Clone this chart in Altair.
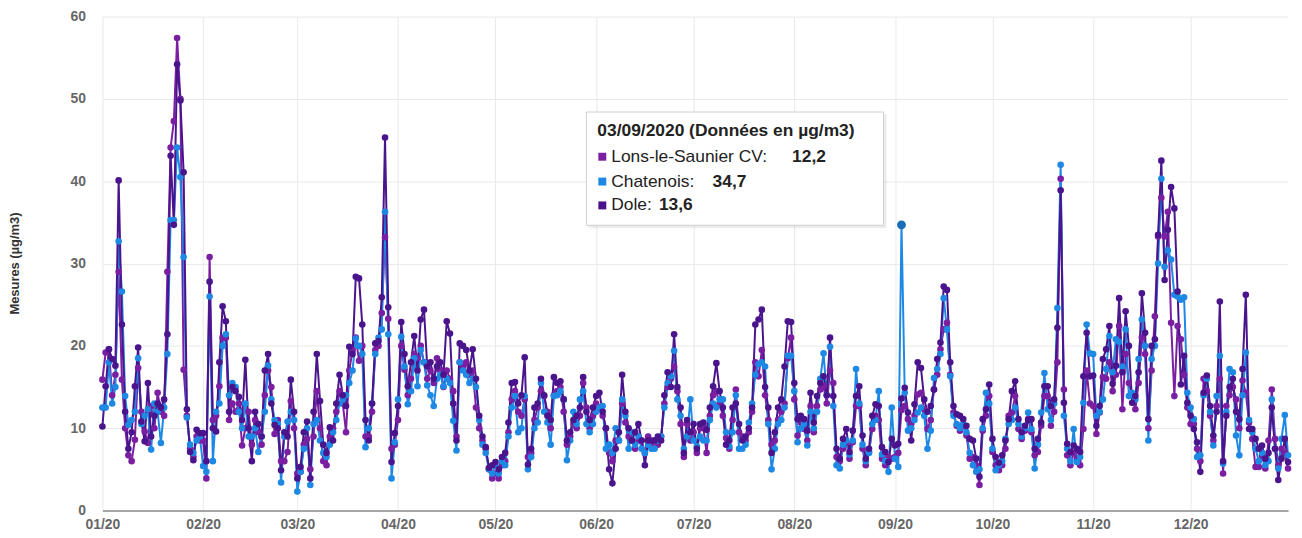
import altair as alt
import pandas as pd

# ---- data (daily means, µg/m3, 2020) ----
series_names = ["Lons-le-Saunier CV", "Chatenois", "Dole"]
series_colors = ["#7B1FA2", "#1E88E5", "#4A148C"]

lons = [
    15.9, 19.2, 19.6, 14.0, 16.5, 29.0, 15.9, 10.0, 6.7, 6.0, 8.6, 17.3, 12.0, 9.6, 8.2, 12.7, 10.0, 14.3, 12.0, 11.5, 29.0, 44.1, 47.3, 57.4, 50.0, 17.1, 11.5, 7.5, 6.5, 9.0, 8.5,
    8.5, 3.9, 30.8, 11.0, 11.5, 15.1, 21.0, 21.0, 11.0, 13.0, 12.0, 13.0, 7.9, 10.0, 12.0, 8.0, 11.0, 9.5, 8.0, 14.0, 17.0, 15.0, 9.3, 11.0, 6.0, 6.0, 7.1, 13.3, 10.0,
    4.5, 4.7, 8.0, 8.7, 5.0, 9.0, 14.5, 10.0, 6.0, 5.5, 9.0, 10.0, 12.0, 14.5, 13.0, 9.5, 17.0, 19.5, 21.0, 18.2, 20.0, 9.0, 9.0, 12.0, 19.5, 20.0, 24.0, 33.2, 23.3, 7.5, 8.0,
    11.0, 20.0, 17.1, 14.0, 16.0, 19.0, 18.5, 20.0, 18.0, 16.0, 17.0, 15.5, 18.5, 17.0, 15.0, 17.0, 16.0, 14.5, 9.0, 18.0, 17.5, 18.0, 16.5, 17.0, 12.5, 10.0, 8.5, 7.5, 5.0, 3.9,
    4.5, 3.9, 5.5, 6.0, 9.5, 13.5, 14.5, 12.0, 11.5, 13.5, 6.5, 7.0, 11.0, 12.5, 14.5, 13.9, 12.0, 10.0, 14.0, 14.5, 15.0, 12.0, 8.0, 9.0, 10.5, 10.0, 11.5, 15.5, 12.5, 10.0, 11.5,
    13.0, 12.5, 11.5, 10.0, 7.0, 6.0, 8.5, 8.5, 13.0, 10.7, 9.0, 8.5, 7.5, 8.5, 8.5, 7.0, 9.0, 8.0, 8.5, 8.0, 9.0, 13.0, 15.0, 16.0, 17.5, 14.5, 10.5, 6.5, 10.5, 8.5,
    9.5, 7.0, 10.0, 10.0, 7.0, 11.5, 14.0, 14.5, 13.0, 11.5, 8.8, 7.5, 11.0, 14.7, 9.5, 9.0, 8.5, 9.5, 12.0, 18.0, 16.3, 19.5, 14.0, 11.0, 8.0, 8.5, 11.0, 12.0, 13.0, 18.5, 21.0,
    13.5, 9.1, 10.7, 9.9, 8.5, 12.7, 9.5, 12.7, 14.7, 15.1, 13.0, 17.0, 15.5, 6.5, 6.0, 7.5, 8.3, 6.3, 8.3, 12.7, 12.7, 7.5, 5.5, 7.1, 9.9, 11.5, 11.0, 6.3, 5.5, 6.5, 6.3,
    6.5, 7.0, 12.2, 12.7, 11.1, 10.5, 11.5, 14.1, 14.3, 12.3, 9.9, 11.0, 14.7, 16.5, 19.6, 22.0, 22.8, 16.5, 11.9, 10.3, 9.7, 10.3, 9.1, 6.3, 6.5, 5.5, 3.1, 9.7, 11.5, 13.9,
    7.1, 5.5, 4.9, 5.5, 7.5, 11.5, 11.9, 13.9, 9.9, 8.7, 9.7, 11.1, 9.5, 6.7, 7.1, 10.3, 13.9, 13.9, 10.3, 12.0, 18.0, 40.3, 14.7, 6.7, 5.5, 7.0, 6.3, 5.5, 9.9, 17.0, 13.0,
    12.7, 9.3, 11.9, 16.2, 16.0, 18.0, 14.5, 16.5, 22.4, 12.3, 19.0, 15.5, 14.0, 12.3, 15.5, 21.0, 19.0, 10.0, 17.0, 23.6, 33.3, 38.0, 33.3, 36.3, 22.8, 13.9, 22.4, 20.8, 16.5, 12.5,
    10.5, 10.5, 7.5, 6.0, 16.0, 14.5, 11.5, 8.5, 12.7, 16.0, 4.5, 12.7, 14.0, 15.0, 13.5, 10.0, 15.8, 14.3, 10.7, 8.7, 5.3, 5.3, 6.7, 5.1, 8.5, 14.7, 8.7, 5.5, 7.5, 7.0, 5.1,
]

chatenois = [
    12.5, 12.5, 18.0, 13.0, 15.0, 32.7, 26.6, 13.9, 10.4, 11.0, 12.0, 18.5, 10.5, 11.5, 12.3, 7.4, 13.0, 12.0, 8.2, 12.5, 19.0, 35.3, 35.3, 44.1, 40.5, 30.8, 11.3, 8.0, 7.0, 8.5, 9.0,
    5.4, 4.7, 26.0, 6.0, 12.0, 13.0, 20.0, 21.4, 14.0, 15.5, 15.0, 12.0, 10.0, 13.0, 9.0, 9.0, 10.0, 7.1, 9.0, 12.0, 17.6, 13.5, 11.0, 10.5, 3.4, 9.0, 10.8, 12.0, 11.0,
    2.3, 4.7, 7.5, 10.0, 3.1, 10.5, 11.0, 8.5, 7.0, 6.5, 8.0, 9.5, 11.0, 13.0, 13.5, 14.0, 15.5, 17.0, 20.9, 20.0, 19.0, 7.7, 10.0, 13.0, 19.0, 21.0, 22.0, 36.3, 21.4, 3.9, 8.3,
    13.5, 21.1, 17.5, 12.9, 14.5, 18.5, 15.1, 19.5, 18.0, 15.2, 14.0, 12.7, 16.0, 16.5, 15.1, 16.0, 15.5, 10.9, 7.3, 18.0, 17.0, 16.5, 15.5, 16.0, 15.0, 11.0, 8.0, 7.0, 5.0, 4.5,
    5.5, 4.5, 6.0, 5.5, 9.0, 12.5, 13.9, 9.5, 10.0, 13.9, 5.0, 6.5, 10.0, 10.7, 15.5, 12.0, 10.7, 8.0, 13.9, 14.0, 14.5, 13.5, 6.1, 8.5, 12.0, 10.5, 13.5, 14.5, 10.5, 9.5, 10.5,
    12.0, 12.5, 12.7, 7.5, 8.0, 7.0, 10.0, 8.5, 13.5, 11.5, 7.5, 9.5, 8.0, 9.0, 7.5, 7.0, 8.0, 7.5, 7.5, 8.5, 9.0, 12.5, 15.5, 16.3, 19.4, 13.5, 11.5, 7.5, 9.0, 13.5,
    8.5, 7.8, 9.0, 8.5, 8.5, 11.0, 13.0, 12.5, 13.5, 13.5, 9.5, 7.8, 9.5, 14.0, 7.5, 7.5, 8.0, 10.7, 13.0, 16.5, 17.8, 18.0, 17.5, 10.5, 5.0, 7.5, 10.5, 11.0, 12.5, 18.8, 18.8,
    14.5, 8.3, 10.0, 10.5, 7.9, 12.0, 10.0, 12.0, 16.0, 19.1, 14.0, 19.9, 12.7, 5.5, 5.1, 8.0, 8.5, 6.8, 8.5, 17.2, 13.0, 8.0, 6.0, 7.0, 10.5, 11.0, 14.5, 6.8, 6.0, 4.7, 12.5,
    6.3, 5.3, 34.7, 14.3, 9.7, 10.0, 11.0, 11.9, 12.5, 11.5, 7.5, 9.7, 16.1, 17.2, 19.0, 25.8, 22.0, 16.3, 11.5, 10.5, 10.0, 10.5, 9.5, 7.0, 5.5, 4.7, 5.0, 10.0, 14.3, 13.0,
    7.5, 4.9, 5.5, 6.0, 8.7, 10.5, 11.0, 12.5, 10.5, 9.0, 10.0, 11.9, 9.9, 5.1, 8.0, 11.9, 16.7, 12.3, 11.0, 13.0, 24.6, 42.0, 11.5, 7.5, 6.0, 9.9, 5.9, 6.5, 13.1, 22.6, 19.1,
    19.0, 11.5, 12.0, 13.5, 17.2, 21.2, 16.8, 20.8, 20.5, 17.5, 22.0, 13.9, 14.3, 13.5, 18.4, 23.2, 20.0, 8.5, 18.4, 20.0, 30.0, 40.3, 29.6, 31.6, 30.5, 26.2, 26.0, 25.6, 25.9, 14.3,
    12.5, 11.1, 6.5, 6.7, 14.0, 16.0, 12.0, 7.9, 13.9, 18.8, 5.7, 12.0, 17.2, 16.8, 9.1, 6.7, 14.0, 19.2, 11.0, 9.5, 7.5, 6.0, 7.0, 5.5, 6.0, 13.5, 7.5, 5.1, 8.7, 11.6, 6.7,
]

dole = [
    10.2, 15.1, 19.6, 18.4, 17.6, 40.1, 22.6, 12.0, 7.5, 9.5, 15.1, 19.8, 10.8, 8.4, 15.5, 9.0, 11.5, 13.0, 12.5, 13.5, 21.4, 43.1, 34.7, 54.2, 49.8, 41.1, 12.3, 7.1, 6.1, 9.8, 9.4,
    9.4, 6.0, 27.8, 10.0, 9.6, 18.0, 24.8, 23.0, 12.0, 15.0, 14.5, 13.8, 11.0, 18.3, 10.0, 6.0, 12.0, 10.5, 9.0, 17.0, 19.0, 13.0, 10.4, 10.0, 4.9, 9.5, 9.0, 15.9, 12.0,
    3.9, 5.3, 9.5, 10.8, 3.9, 12.0, 19.0, 13.3, 8.0, 7.0, 10.1, 8.5, 13.0, 16.5, 14.0, 12.7, 19.9, 19.0, 28.4, 28.2, 22.6, 11.0, 8.5, 13.0, 20.3, 20.6, 25.9, 45.3, 24.7, 5.9, 9.4,
    12.7, 22.9, 19.0, 15.1, 18.0, 21.2, 17.0, 23.2, 24.4, 17.5, 18.0, 16.0, 17.5, 18.0, 16.5, 23.0, 21.5, 13.0, 8.5, 20.3, 20.0, 19.5, 17.0, 19.6, 16.0, 11.5, 9.0, 7.7, 5.2, 5.5,
    5.9, 5.0, 6.5, 7.0, 10.7, 15.5, 15.6, 13.0, 14.0, 18.6, 5.6, 7.5, 12.5, 13.0, 16.0, 14.0, 11.5, 11.0, 16.2, 15.5, 15.7, 13.5, 8.5, 9.5, 11.0, 11.5, 12.5, 16.2, 12.0, 11.0, 12.5,
    13.9, 14.3, 12.0, 10.0, 5.0, 3.3, 7.5, 9.5, 16.5, 12.0, 10.0, 8.5, 9.5, 10.5, 8.5, 5.5, 8.5, 8.5, 8.5, 9.0, 8.5, 14.0, 16.8, 15.0, 21.4, 15.0, 12.5, 7.0, 11.0, 9.5,
    10.5, 7.5, 10.5, 10.7, 9.8, 12.5, 15.1, 17.9, 14.5, 12.5, 8.0, 8.5, 12.5, 13.0, 10.5, 8.5, 9.0, 10.0, 12.5, 22.6, 23.2, 24.4, 15.0, 12.5, 7.0, 9.5, 12.5, 13.5, 17.5, 23.0, 22.9,
    15.5, 11.1, 11.5, 11.1, 9.7, 14.3, 10.7, 13.9, 15.5, 16.3, 14.0, 21.0, 13.9, 7.5, 6.3, 8.7, 9.9, 7.1, 9.7, 13.9, 15.1, 9.1, 6.3, 7.5, 11.5, 12.9, 12.7, 7.7, 7.1, 5.9, 8.7,
    7.9, 8.1, 13.6, 14.9, 11.9, 8.5, 12.9, 18.0, 17.3, 13.5, 12.0, 12.7, 14.7, 18.4, 20.4, 27.2, 26.8, 18.0, 12.7, 11.7, 11.5, 11.1, 10.3, 8.7, 8.5, 6.3, 4.1, 11.1, 12.3, 15.3,
    8.7, 6.5, 5.8, 6.7, 8.5, 11.1, 14.5, 15.7, 11.1, 9.5, 10.3, 11.0, 11.1, 7.5, 8.7, 10.7, 15.1, 15.1, 12.7, 13.5, 22.2, 38.9, 13.1, 8.1, 7.1, 7.9, 7.5, 7.1, 16.3, 21.6, 16.3,
    16.4, 10.3, 12.7, 18.4, 19.6, 22.4, 15.4, 17.6, 25.8, 16.8, 24.2, 20.0, 13.1, 13.9, 16.8, 26.4, 21.6, 11.1, 20.0, 20.8, 33.5, 42.5, 28.0, 34.1, 39.3, 36.7, 26.6, 15.3, 18.8, 13.1,
    11.5, 9.9, 8.3, 4.7, 14.3, 16.4, 12.7, 9.1, 12.0, 25.4, 6.0, 11.5, 15.0, 16.0, 12.0, 11.1, 17.2, 26.2, 9.9, 9.9, 8.7, 7.5, 7.9, 6.3, 7.0, 12.5, 7.5, 3.7, 6.3, 8.7, 5.9,
]

y_ticks = [0, 10, 20, 30, 40, 50, 60]
hover_date = "2020-09-03"

# ---- build table ----
dates = pd.date_range("2020-01-01", "2020-12-31", freq="D")
date_str = dates.strftime("%Y-%m-%d").tolist()
for arr in (lons, chatenois, dole):
    assert len(arr) == len(date_str), len(arr)

rows = []
for name, vals in zip(series_names, (lons, chatenois, dole)):
    for d, v in zip(date_str, vals):
        rows.append({"date": d, "series": name, "value": v})
df = pd.DataFrame(rows)


def ms(ts):
    return int(pd.Timestamp(ts, tz="UTC").value // 10**6)


month_ticks = [ms(f"2020-{m:02d}-01") for m in range(1, 13)]
x_domain = [ms("2020-01-01"), ms("2020-12-31")]

FONT = "Liberation Sans"

x_enc = alt.X(
    "date:T",
    scale=alt.Scale(type="utc", domain=x_domain),
    axis=alt.Axis(
        values=month_ticks,
        labelExpr="utcFormat(datum.value, '%m/%y')",
        labelFlush=False,
        labelOverlap=False,
        ticks=False,
        labelPadding=7,
        grid=True,
        domain=True,
    ),
    title=None,
)
y_enc = alt.Y(
    "value:Q",
    scale=alt.Scale(domain=[0, 60], nice=False),
    axis=alt.Axis(
        values=y_ticks,
        ticks=False,
        domain=False,
        grid=True,
        labelPadding=17,
        title="Mesures (µg/m3)",
        titleAngle=270,
        titleX=-88,
        titleY=248,
        titleAlign="center",
        titleBaseline="middle",
        titleFontSize=13,
        titleFontWeight="bold",
        titleColor="#333333",
        titleFont=FONT,
    ),
)
color_enc = alt.Color(
    "series:N",
    scale=alt.Scale(domain=series_names, range=series_colors),
    legend=None,
)

base = alt.Chart(df).encode(x=x_enc, y=y_enc, color=color_enc)
lines = base.mark_line(strokeWidth=2)
points = base.mark_circle(size=44, opacity=1)

hover = (
    alt.Chart(df)
    .transform_filter(
        "datum.series == 'Chatenois' && utcmonth(datum.date) == 8 && utcdate(datum.date) == 3"
    )
    .mark_circle(size=80, opacity=1, color="#1B6DB8")
    .encode(x=x_enc, y=y_enc)
)

# ---- tooltip box (annotation) ----
hover_idx = date_str.index(hover_date)
hd = pd.Timestamp(hover_date)
tip_title = f"{hd:%d/%m/%Y} (Données en µg/m3)"


def fr(v):
    return f"{v:.1f}".replace(".", ",")


one = alt.Data(values=[{"k": 1}])
shadow = alt.Chart(one).mark_rect(fill="#000000", opacity=0.07).encode(
    x=alt.value(489), x2=alt.value(789), y=alt.value(98), y2=alt.value(213)
)
box = alt.Chart(one).mark_rect(fill="white", stroke="#cfcfcf", strokeWidth=1).encode(
    x=alt.value(487), x2=alt.value(786), y=alt.value(96), y2=alt.value(210)
)
title_txt = alt.Chart(one).mark_text(
    align="left", baseline="middle", font=FONT, fontSize=17.5, fontWeight="bold", color="#222222"
).encode(x=alt.value(498), y=alt.value(115), text=alt.value(tip_title))

tip_layers = [shadow, box, title_txt]
row_y = [141, 166, 190]
val_x = [694, 614, 560]
for name, col, vals, yy, vx in zip(series_names, series_colors, (lons, chatenois, dole), row_y, val_x):
    tip_layers.append(
        alt.Chart(one).mark_square(size=64, opacity=1, color=col).encode(
            x=alt.value(503), y=alt.value(yy)
        )
    )
    tip_layers.append(
        alt.Chart(one).mark_text(
            align="left", baseline="middle", font=FONT, fontSize=17.5, color="#222222"
        ).encode(x=alt.value(512), y=alt.value(yy), text=alt.value(f"{name}:"))
    )
    tip_layers.append(
        alt.Chart(one).mark_text(
            align="left", baseline="middle", font=FONT, fontSize=17.5, fontWeight="bold", color="#222222"
        ).encode(x=alt.value(vx), y=alt.value(yy), text=alt.value(fr(vals[hover_idx])))
    )

chart = (
    alt.layer(lines, points, hover, *tip_layers)
    .properties(
        width=1193,
        height=497,
        autosize=alt.AutoSizeParams(type="none"),
        padding={"left": 95, "top": 7, "right": 6, "bottom": 26},
    )
    .configure_view(stroke=None)
    .configure_axis(
        labelFont=FONT,
        labelFontSize=14,
        labelFontWeight="bold",
        labelColor="#666666",
        gridColor="#e9e9e9",
        gridWidth=1,
    )
    .configure_axisX(domainColor="#a6a6a6", domainWidth=2)
)

chart.save("out.html", embed_options={"renderer": "svg", "actions": False})
